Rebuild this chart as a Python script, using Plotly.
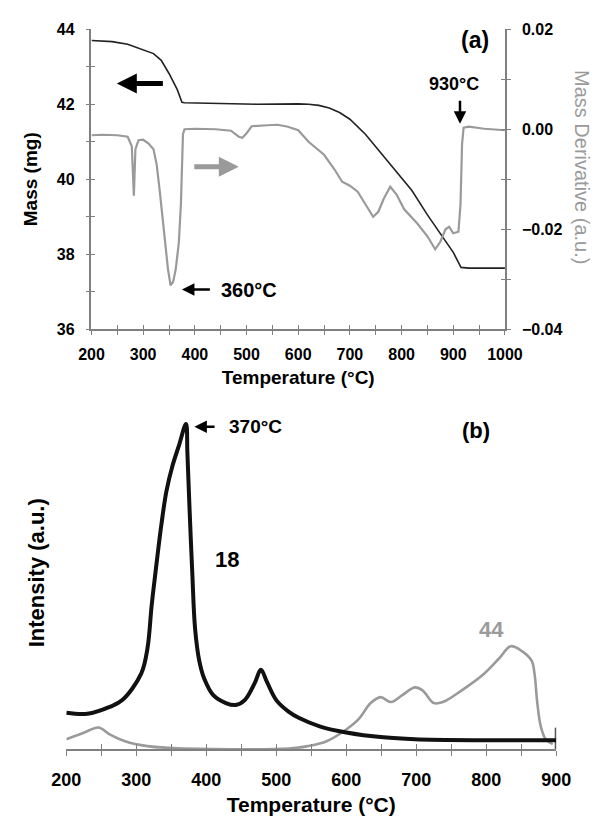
import plotly.graph_objects as go

# ---------------- Panel (a): TGA ----------------
mass_T = [200, 240, 270, 285, 300, 320, 335, 350, 366, 375, 380, 450, 500, 520, 600, 620,
          640, 660, 680, 700, 730, 760, 780, 800, 820, 850, 880, 900, 915, 930, 1000]
mass_mg = [43.70, 43.67, 43.60, 43.52, 43.46, 43.35, 43.17, 42.82, 42.39, 42.05, 42.04, 42.03, 42.02, 42.00, 42.01, 42.00,
           41.97, 41.90, 41.78, 41.60, 41.20, 40.70, 40.38, 40.05, 39.70, 39.05, 38.45, 38.05, 37.65, 37.63, 37.63]

deriv_T = [200, 220, 250, 270, 278, 282, 285, 291, 300, 310, 320, 326, 332, 341, 348, 353, 358, 363,
           369, 373, 375, 377, 380, 400, 440, 470, 485, 492, 500, 510, 540, 560, 580, 600,
           620, 650, 670, 685, 700, 715, 730, 745, 755, 765, 778, 790, 805, 830, 850, 865,
           875, 885, 892, 900, 910, 914, 917, 920, 930, 960, 1000]
deriv_val = [-0.0012, -0.0011, -0.0012, -0.0015, -0.0034, -0.0133, -0.0040, -0.0022, -0.0021, -0.0028,
             -0.0040, -0.0070, -0.0123, -0.0214, -0.0280, -0.0312, -0.0305, -0.0280,
             -0.0227, -0.0150, -0.0084, -0.0010, 0.0000, 0.0001, 0.0000, -0.0003, -0.0015, -0.0017,
             -0.0008, 0.0006, 0.0008, 0.0009, 0.0005, -0.0002,
             -0.0025, -0.0051, -0.0080, -0.0105, -0.0113, -0.0125, -0.0150, -0.0175, -0.0165,
             -0.0140, -0.0115, -0.0130, -0.0160, -0.0188, -0.0214, -0.0240,
             -0.0225, -0.0200, -0.0195, -0.0208, -0.0205, -0.0150, -0.0030, 0.0003, 0.0005, 0.0001, -0.0002]

# ---------------- Panel (b): MS signals ----------------
m18_T = [200, 230, 262, 280, 307, 316, 322, 329, 336, 343, 352, 361, 371, 373, 376, 380, 384, 390,
         397, 410, 428, 442, 455, 469, 478, 487, 500, 518, 532, 563, 600, 653, 698, 788, 900]
m18_I = [0.37, 0.36, 0.43, 0.50, 0.77, 1.03, 1.47, 1.90, 2.30, 2.63, 2.90, 3.10, 3.32, 3.03, 2.47, 1.80,
         1.23, 0.90, 0.72, 0.55, 0.47, 0.45, 0.50, 0.67, 0.81, 0.68, 0.50, 0.38, 0.32, 0.23, 0.17,
         0.12, 0.10, 0.09, 0.09]

m44_T = [200, 226, 246, 262, 284, 316, 352, 518, 545, 572, 600, 617, 635, 649, 664, 680, 698, 709,
         725, 738, 765, 797, 819, 835, 851, 865, 869, 873, 878, 885, 895]
m44_I = [0.10, 0.17, 0.22, 0.15, 0.08, 0.03, 0.01, 0.005, 0.03, 0.08, 0.20, 0.30, 0.47, 0.53, 0.48,
         0.55, 0.63, 0.60, 0.47, 0.48, 0.60, 0.77, 0.93, 1.05, 1.00, 0.90, 0.77, 0.47, 0.23, 0.10, 0.05]

FONT = "Liberation Sans, Arial, sans-serif"
AX = "#808080"
GRAY = "#9a9a9a"

fig = go.Figure()
fig.add_trace(go.Scatter(x=mass_T, y=mass_mg, mode="lines", line=dict(color="#222222", width=1.6),
                         xaxis="x", yaxis="y", showlegend=False))
fig.add_trace(go.Scatter(x=deriv_T, y=deriv_val, mode="lines", line=dict(color=GRAY, width=2.2),
                         xaxis="x", yaxis="y2", showlegend=False))
fig.add_trace(go.Scatter(x=m44_T, y=m44_I, mode="lines", line=dict(color=GRAY, width=2.6, shape="spline"),
                         xaxis="x2", yaxis="y3", showlegend=False))
n18 = len(m18_T)
fig.add_trace(go.Scatter(x=m18_T, y=m18_I, mode="lines+markers", line=dict(color="#111111", width=4, shape="spline"),
                         marker=dict(symbol="line-ns", size=[0] * (n18 - 1) + [18],
                                     line=dict(color="#111111", width=3)),
                         xaxis="x2", yaxis="y3", showlegend=False))
# dummy traces for inside-tick overlay axes
fig.add_trace(go.Scatter(x=[None], y=[None], xaxis="x3", yaxis="y4", showlegend=False, hoverinfo="skip"))
fig.add_trace(go.Scatter(x=[None], y=[None], xaxis="x4", yaxis="y5", showlegend=False, hoverinfo="skip"))
fig.add_trace(go.Scatter(x=[None], y=[None], xaxis="x3", yaxis="y6", showlegend=False, hoverinfo="skip"))

tf_top = dict(family=FONT, size=16, color="black", weight="bold")
tf_bot = dict(family=FONT, size=18, color="black", weight="bold")

xd_top = [0.1361, 0.8718]
yd_top = [0.6019, 0.9737]
xd_bot = [0.0913, 0.9630]
yd_bot = [0.0817, 0.5186]

common = dict(showgrid=False, zeroline=False, linecolor=AX, linewidth=1.5, tickcolor=AX, tickwidth=1.2)

fig.update_layout(
    width=595, height=824, autosize=False,
    margin=dict(l=0, r=0, t=0, b=0),
    paper_bgcolor="white", plot_bgcolor="rgba(0,0,0,0)",
    xaxis=dict(domain=xd_top, range=[200, 1000], anchor="y", showline=True, ticks="outside", ticklen=4,
               dtick=100, tickfont=tf_top, ticklabelstandoff=6,
               minor=dict(dtick=50, ticks="outside", ticklen=4, tickcolor=AX, tickwidth=1.2),
               title=dict(text="Temperature (°C)", font=dict(family=FONT, size=19, color="black", weight="bold"),
                          standoff=8), **common),
    yaxis=dict(domain=yd_top, range=[36, 44], anchor="x", showline=True, ticks="outside", ticklen=4,
               dtick=2, tickfont=tf_top, ticklabelstandoff=8,
               minor=dict(dtick=1, ticks="outside", ticklen=4, tickcolor=AX, tickwidth=1.2),
               title=dict(text="Mass (mg)", font=dict(family=FONT, size=19, color="black", weight="bold"),
                          standoff=14), **common),
    yaxis2=dict(range=[-0.04, 0.02], overlaying="y", side="right", anchor="x", showline=True, ticks="outside",
                ticklen=4, dtick=0.02, tickformat=".2f", tickfont=tf_top, ticklabelstandoff=8,
                minor=dict(dtick=0.01, ticks="outside", ticklen=4, tickcolor=AX, tickwidth=1.2), **common),
    # inside tick overlays for crossing ticks
    xaxis3=dict(overlaying="x", range=[200, 1000], anchor="y", showline=False, ticks="inside", ticklen=4,
                dtick=50, showticklabels=False, showgrid=False, zeroline=False, tickcolor=AX, tickwidth=1.2),
    yaxis4=dict(overlaying="y", range=[36, 44], anchor="x", side="left", showline=False, ticks="inside",
                ticklen=4, dtick=1, showticklabels=False, showgrid=False, zeroline=False, tickcolor=AX, tickwidth=1.2),
    yaxis6=dict(overlaying="y", range=[-0.04, 0.02], anchor="x", side="right", showline=False, ticks="inside",
                ticklen=4, dtick=0.01, showticklabels=False, showgrid=False, zeroline=False, tickcolor=AX, tickwidth=1.2),
    xaxis2=dict(domain=xd_bot, range=[200, 900], anchor="y3", showline=True, ticks="outside", ticklen=5,
                dtick=100, tickfont=tf_bot, ticklabelstandoff=9,
                minor=dict(dtick=50, ticks="outside", ticklen=5, tickcolor=AX, tickwidth=1.2),
                title=dict(text="Temperature (°C)", font=dict(family=FONT, size=21, color="black", weight="bold"),
                           standoff=8), **common),
    yaxis3=dict(domain=yd_bot, range=[0, 3.6], anchor="x2", showline=False, ticks="", showticklabels=False,
                showgrid=False, zeroline=False,
                title=dict(text="Intensity (a.u.)", font=dict(family=FONT, size=22, color="black", weight="bold"),
                           standoff=14)),
    xaxis4=dict(overlaying="x2", range=[200, 900], anchor="y3", showline=False, ticks="inside", ticklen=5,
                dtick=50, showticklabels=False, showgrid=False, zeroline=False, tickcolor=AX, tickwidth=1.2),
    yaxis5=dict(overlaying="y3", range=[0, 3.6], anchor="x2", visible=False),
)

ann = []
# right axis title
ann.append(dict(xref="paper", yref="paper", x=601/595, y=1-163/824, xanchor="center", yanchor="middle",
                text="Mass Derivative (a.u.)", textangle=90, showarrow=False,
                font=dict(family=FONT, size=20, color=GRAY)))
# panel (a) labels
ann.append(dict(xref="x", yref="y", x=942, y=43.70, text="(a)", showarrow=False,
                font=dict(family=FONT, size=23, color="black", weight="bold")))
ann.append(dict(xref="x", yref="y", x=902, y=42.55, text="930°C", showarrow=False,
                font=dict(family=FONT, size=18, color="black", weight="bold")))
ann.append(dict(xref="x", yref="y", x=913, y=41.48, ax=913, ay=42.13, axref="x", ayref="y", text="",
                showarrow=True, arrowhead=2, arrowsize=1, arrowwidth=2.5, arrowcolor="black"))
ann.append(dict(xref="x", yref="y", x=505, y=37.06, text="360°C", showarrow=False,
                font=dict(family=FONT, size=20, color="black", weight="bold")))
ann.append(dict(xref="x", yref="y", x=375, y=37.06, ax=432, ay=37.06, axref="x", ayref="y", text="",
                showarrow=True, arrowhead=2, arrowsize=1, arrowwidth=2.5, arrowcolor="black"))
ann.append(dict(xref="x", yref="y", x=249, y=42.55, ax=341, ay=42.55, axref="x", ayref="y", text="",
                showarrow=True, arrowhead=2, arrowsize=0.8, arrowwidth=5, arrowcolor="black"))
ann.append(dict(xref="x", yref="y", x=485, y=40.33, ax=396, ay=40.33, axref="x", ayref="y", text="",
                showarrow=True, arrowhead=2, arrowsize=0.8, arrowwidth=5, arrowcolor=GRAY))
# panel (b) labels
ann.append(dict(xref="x2", yref="y3", x=785, y=3.25, text="(b)", showarrow=False,
                font=dict(family=FONT, size=22, color="black", weight="bold")))
ann.append(dict(xref="x2", yref="y3", x=470, y=3.29, text="370°C", showarrow=False,
                font=dict(family=FONT, size=19, color="black", weight="bold")))
ann.append(dict(xref="x2", yref="y3", x=383, y=3.29, ax=414, ay=3.29, axref="x2", ayref="y3", text="",
                showarrow=True, arrowhead=2, arrowsize=1, arrowwidth=2.5, arrowcolor="black"))
ann.append(dict(xref="x2", yref="y3", x=430, y=1.94, text="18", showarrow=False,
                font=dict(family=FONT, size=22, color="black", weight="bold")))
ann.append(dict(xref="x2", yref="y3", x=808, y=1.22, text="44", showarrow=False,
                font=dict(family=FONT, size=22, color=GRAY, weight="bold")))
fig.update_layout(annotations=ann)

fig.write_html("out.html")
